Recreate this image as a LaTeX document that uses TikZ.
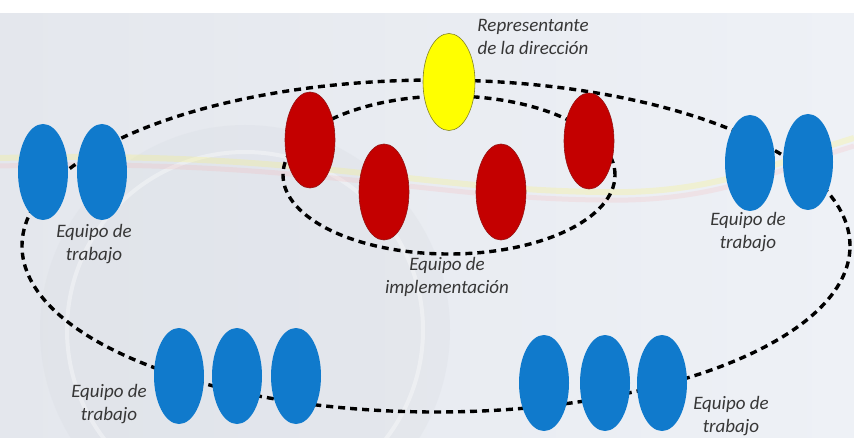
\documentclass[tikz,border=0pt]{standalone}
\usepackage{fontspec}
\setmainfont{Carlito}
\usetikzlibrary{shapes.geometric}
\definecolor{bgA}{RGB}{228,231,237}
\definecolor{bgB}{RGB}{238,241,246}
\definecolor{teamblue}{RGB}{16,122,204}
\definecolor{implred}{RGB}{196,0,0}
\definecolor{implredB}{RGB}{150,20,20}
\definecolor{diryellow}{RGB}{255,255,0}
\definecolor{diryellowB}{RGB}{130,130,40}
\definecolor{labelgrey}{RGB}{55,55,55}
\definecolor{sealgrey}{RGB}{214,218,225}
\tikzset{
  person/.style={ellipse, minimum width=50pt, minimum height=96pt, inner sep=0pt},
  blueperson/.style={person, fill=teamblue},
  redperson/.style={person, fill=implred, draw=implredB, line width=0.6pt},
  yellowperson/.style={person, fill=diryellow, draw=diryellowB, line width=0.6pt, minimum width=52pt, minimum height=97pt},
  ring/.style={ellipse, draw=black, dash pattern=on 7pt off 5pt, line width=3.4pt, inner sep=0pt},
  lbl/.style={align=center, text=labelgrey, font=\fontsize{19}{23}\selectfont\itshape, inner sep=0pt}
}
\begin{document}
\begin{tikzpicture}[x=1pt,y=-1pt]
\useasboundingbox (0,0) rectangle (854,438);
% background
\shade[left color=bgA, right color=bgB] (0,13) rectangle (854,438);
\fill[white] (0,0) rectangle (854,13);
\fill[sealgrey, opacity=0.25] (245,330) circle (205);
\draw[white, opacity=0.35, line width=4pt] (245,330) circle (178);
\draw[yellow!70!white, opacity=0.2, line width=6pt] (0,158) .. controls (300,150) and (420,190) .. (600,192) .. controls (720,195) and (780,160) .. (854,138);
\draw[red!40!white, opacity=0.15, line width=5pt] (0,166) .. controls (300,158) and (420,198) .. (600,200) .. controls (720,203) and (780,168) .. (854,146);
% dashed groups
\node[ring, minimum width=828pt, minimum height=332pt] (outer) at (436,246) {};
\node[ring, minimum width=332pt, minimum height=158pt] (inner) at (449,175) {};
% direction representative
\node[yellowperson] (dir) at (449,82) {};
% implementation team
\node[redperson] (r1) at (310,140) {};
\node[redperson] (r2) at (384,192) {};
\node[redperson] (r3) at (501,192) {};
\node[redperson] (r4) at (589,141) {};
% work teams
\node[blueperson] (la) at (43,172) {};
\node[blueperson] (lb) at (102,172) {};
\node[blueperson] (ra) at (750,163) {};
\node[blueperson] (rb) at (808,162) {};
\node[blueperson] (bla) at (179,376) {};
\node[blueperson] (blb) at (237,376) {};
\node[blueperson] (blc) at (296,376) {};
\node[blueperson] (bra) at (544,383) {};
\node[blueperson] (brb) at (605,383) {};
\node[blueperson] (brc) at (662,383) {};
% labels
\node[lbl] (tdir) at (533,37) {Representante\\de la dirección};
\node[lbl] (tl) at (94,244) {Equipo de\\trabajo};
\node[lbl] (timpl) at (447,277) {Equipo de\\implementación};
\node[lbl] (tr) at (748,232) {Equipo de\\trabajo};
\node[lbl] (tbl) at (109,404) {Equipo de\\trabajo};
\node[lbl] (tbr) at (731,416) {Equipo de\\trabajo};
\end{tikzpicture}
\end{document}
